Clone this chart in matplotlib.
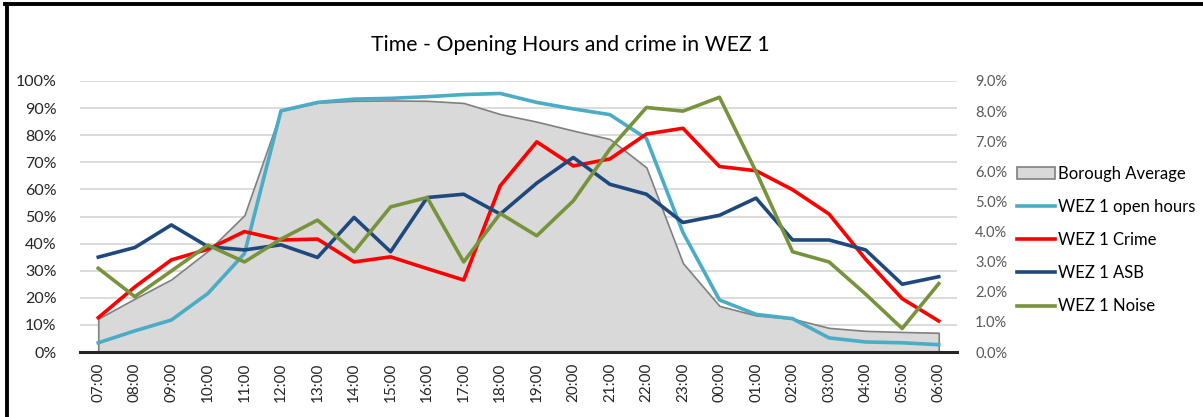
import matplotlib
matplotlib.use("Agg")
import matplotlib.pyplot as plt
from matplotlib.patches import Patch
from matplotlib.lines import Line2D
from matplotlib.ticker import PercentFormatter

plt.rcParams['font.family'] = ['Lato', 'DejaVu Sans']

hours = ["07:00", "08:00", "09:00", "10:00", "11:00", "12:00", "13:00", "14:00",
         "15:00", "16:00", "17:00", "18:00", "19:00", "20:00", "21:00", "22:00",
         "23:00", "00:00", "01:00", "02:00", "03:00", "04:00", "05:00", "06:00"]

# left axis (share of premises open)
borough_average = [12.3, 19.7, 26.8, 37.3, 50.5, 89.0, 92.0, 92.7,
                   92.8, 92.7, 91.9, 87.8, 85.0, 81.7, 78.6, 68.1,
                   32.8, 17.0, 13.5, 12.3, 8.9, 7.8, 7.4, 7.1]
wez1_open_hours = [3.4, 7.8, 11.8, 21.6, 36.3, 89.0, 92.1, 93.3,
                   93.6, 94.2, 95.0, 95.4, 92.1, 89.7, 87.6, 78.8,
                   44.1, 19.2, 13.9, 12.3, 5.2, 3.7, 3.4, 2.7]

# right axis (share of incidents by hour)
wez1_crime = [1.14, 2.16, 3.06, 3.41, 4.00, 3.72, 3.75, 2.99,
              3.16, 2.77, 2.39, 5.52, 6.98, 6.18, 6.41, 7.24,
              7.43, 6.16, 6.02, 5.39, 4.58, 3.08, 1.77, 1.03]
wez1_asb = [3.15, 3.47, 4.22, 3.50, 3.39, 3.56, 3.14, 4.47,
            3.33, 5.13, 5.24, 4.58, 5.61, 6.46, 5.57, 5.24,
            4.30, 4.54, 5.11, 3.72, 3.72, 3.39, 2.25, 2.50]
wez1_noise = [2.78, 1.84, 2.69, 3.55, 2.99, 3.75, 4.38, 3.33,
              4.82, 5.13, 2.99, 4.60, 3.86, 5.02, 6.74, 8.12,
              8.00, 8.46, 5.99, 3.33, 2.99, 1.92, 0.78, 2.27]

W, H = 1203, 417
fig = plt.figure(figsize=(W / 100, H / 100), dpi=100)

def fx(px):
    return px / W

def fy(py):
    return 1 - py / H

left_px, right_px, top_px, bottom_px = 80, 957, 81, 352
ax = fig.add_axes([fx(left_px), fy(bottom_px),
                   fx(right_px - left_px), (bottom_px - top_px) / H])
ax2 = ax.twinx()

x = list(range(len(hours)))

ax.fill_between(x, borough_average, 0, facecolor='#d9d9d9',
                edgecolor='#808080', linewidth=1.2, zorder=2)
ax.plot(x, wez1_open_hours, color='#4bacc6', lw=2.6, zorder=3,
        solid_joinstyle='round')

ax2.plot(x, wez1_crime, color='#ff0000', lw=2.6, solid_joinstyle='round')
ax2.plot(x, wez1_asb, color='#1f497d', lw=2.6, solid_joinstyle='round')
ax2.plot(x, wez1_noise, color='#77933c', lw=2.6, solid_joinstyle='round')

ax.set_xlim(-0.5, len(hours) - 0.5)
ax.set_ylim(0, 100)
ax2.set_ylim(0, 9)
ax.set_yticks(range(0, 101, 10))
ax2.set_yticks(range(0, 10))
ax.yaxis.set_major_formatter(PercentFormatter(decimals=0))
ax2.yaxis.set_major_formatter(PercentFormatter(decimals=1))

ax.set_xticks(x)
ax.set_xticklabels(hours, rotation=90, fontsize=11, color='#262626')
ax.tick_params(axis='x', length=0, pad=8)
ax.tick_params(axis='y', length=0, pad=17, labelsize=11.5, labelcolor='#262626')
ax2.tick_params(axis='y', length=0, pad=13, labelsize=10.5, labelcolor='#595959')

ax.grid(axis='y', color='#d9d9d9', lw=1.3, zorder=0)
ax.set_axisbelow(True)
for a in (ax, ax2):
    for side in ('top', 'right', 'left', 'bottom'):
        a.spines[side].set_visible(False)
ax2.axhline(0, color='#262626', lw=2.2, zorder=5, clip_on=False)
ax.patch.set_visible(False)

fig.text(fx(570), fy(45), 'Time - Opening Hours and crime in WEZ 1',
         ha='center', va='center', fontsize=15.3, color='#000000')

handles = [
    Patch(facecolor='#d9d9d9', edgecolor='#808080', linewidth=1.2),
    Line2D([], [], color='#4bacc6', lw=2.6),
    Line2D([], [], color='#ff0000', lw=2.6),
    Line2D([], [], color='#1f497d', lw=2.6),
    Line2D([], [], color='#77933c', lw=2.6),
]
labels = ['Borough Average', 'WEZ 1 open hours', 'WEZ 1 Crime',
          'WEZ 1 ASB', 'WEZ 1 Noise']
fig.legend(handles, labels, loc='center left',
           bbox_to_anchor=(fx(1017), fy(240)), frameon=False,
           fontsize=12, handlelength=2.3, handletextpad=0.15,
           labelspacing=1.03, borderaxespad=0, borderpad=0)

# chart border (top and left edges)
fig.add_artist(Line2D([fx(5), 1.0], [fy(3.5), fy(3.5)], color='black', lw=2.8))
fig.add_artist(Line2D([fx(7), fx(7)], [fy(3.5), 0.0], color='black', lw=2.8))

fig.savefig('out.png', dpi=100, facecolor='white')
